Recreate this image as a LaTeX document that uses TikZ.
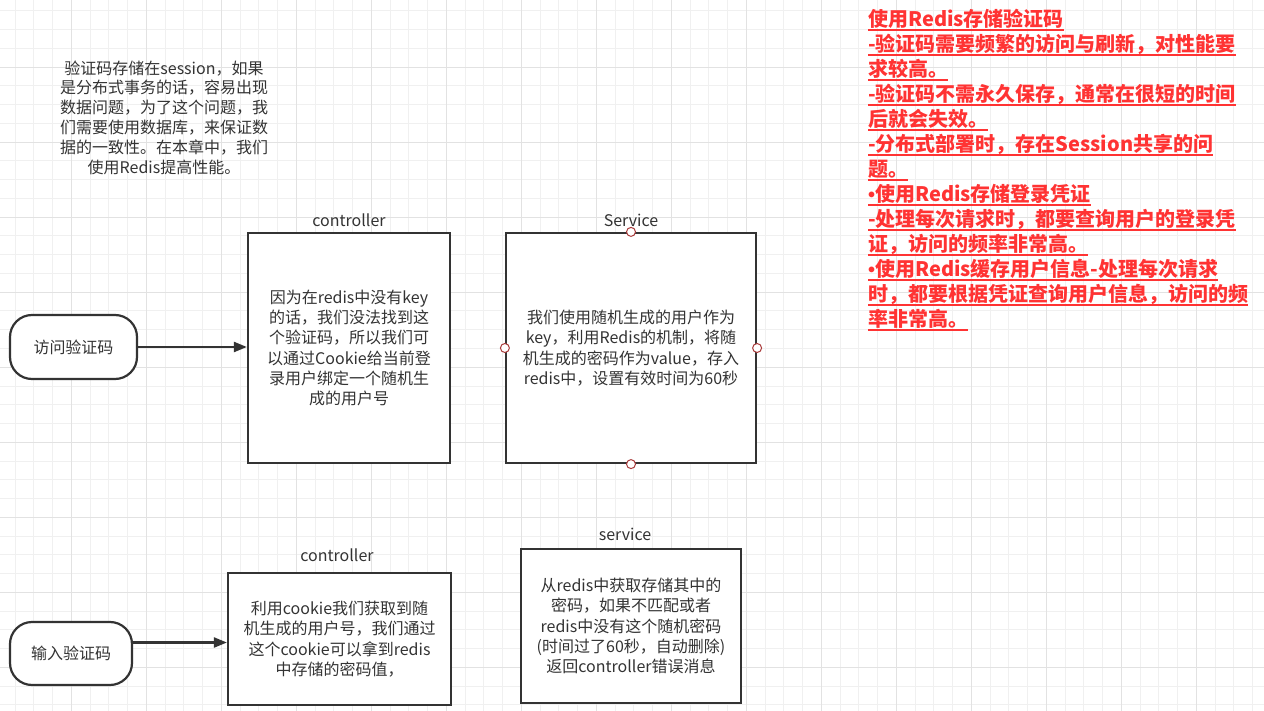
\documentclass[tikz,border=0pt]{standalone}
\usepackage{fontspec}
\setmainfont{Noto Sans CJK SC}
\newfontfamily\bulletfont{Liberation Sans}
\usetikzlibrary{arrows.meta,calc}
\definecolor{dark}{RGB}{51,51,51}
\definecolor{gminor}{RGB}{240,240,240}
\definecolor{gmajor}{RGB}{226,226,226}
\definecolor{redt}{RGB}{255,51,51}
\definecolor{cptc}{RGB}{170,60,60}
\newcommand\redul[1]{\setbox0\hbox{#1}\rlap{\rule[-4.5pt]{\wd0}{2pt}}\box0}
\newcommand\bul{{\bulletfont\bfseries •}}
\tikzset{
  box/.style={draw=dark, line width=2.2pt, fill=white, align=center, text=dark,
    font=\fontsize{16}{20.3}\selectfont, inner sep=0pt},
  stad/.style={box, rounded corners=22pt},
  lbl/.style={text=dark, font=\fontsize{16}{19}\selectfont, inner sep=0pt},
  arr/.style={draw=dark, line width=2.2pt, -{Triangle[length=13pt,width=10pt]}},
  cpt/.style={circle, draw=cptc, fill=white, line width=1pt, minimum size=9pt, inner sep=0pt},
}
\begin{document}
\begin{tikzpicture}[x=1pt,y=-1pt]
\useasboundingbox (0,0) rectangle (1264,711);
\fill[white] (0,0) rectangle (1264,711);
% grid
\foreach \i in {0,...,67} \draw[gminor, line width=1pt] ({15+18.75*\i},0) -- ({15+18.75*\i},711);
\foreach \i in {-1,...,38} \draw[gminor, line width=1pt] (0,{11+18.75*\i}) -- (1264,{11+18.75*\i});
\foreach \i in {0,...,16} \draw[gmajor, line width=1pt] ({71.25+75*\i},0) -- ({71.25+75*\i},711);
\foreach \i in {0,...,8} \draw[gmajor, line width=1pt] (0,{67.25+75*\i}) -- (1264,{67.25+75*\i});

% top-left note
\node[lbl, align=center, font=\fontsize{16}{19.8}\selectfont] (note) at (164,117.5)
  {验证码存储在session，如果\\是分布式事务的话，容易出现\\数据问题，为了这个问题，我\\们需要使用数据库，来保证数\\据的一致性。在本章中，我们\\使用Redis提高性能。};

% red notes
\node[anchor=north west, align=left, text=redt, inner sep=0pt,
  font=\bfseries\fontsize{20}{25}\selectfont] (reds) at (868,8.5)
  {\redul{使用Redis存储验证码}\\
   \redul{-验证码需要频繁的访问与刷新，对性能要}\\
   \redul{求较高。}\\
   \redul{-验证码不需永久保存，通常在很短的时间}\\
   \redul{后就会失效。}\\
   \redul{-分布式部署时，存在Session共享的问}\\
   \redul{题。}\\
   \redul{\bul 使用Redis存储登录凭证}\\
   \redul{-处理每次请求时，都要查询用户的登录凭}\\
   \redul{证，访问的频率非常高。}\\
   \redul{\bul 使用Redis缓存用户信息-处理每次请求}\\
   \redul{时，都要根据凭证查询用户信息，访问的频}\\
   \redul{率非常高。}};

% row 1
\node[stad, minimum width=127pt, minimum height=64pt] (s1) at (73.5,347) {访问验证码};
\node[box, minimum width=202pt, minimum height=230pt] (c1) at (349,348)
  {因为在redis中没有key\\的话，我们没法找到这\\个验证码，所以我们可\\以通过Cookie给当前登\\录用户绑定一个随机生\\成的用户号};
\node[box, minimum width=250pt, minimum height=230pt] (v1) at (631,348)
  {我们使用随机生成的用户作为\\key，利用Redis的机制，将随\\机生成的密码作为value，存入\\redis中，设置有效时间为60秒};
\node[lbl] (c1l) at (349,220) {controller};
\node[lbl] (v1l) at (631,220) {Service};
\draw[arr] (s1.east) -- (s1.east -| c1.west);
\node[cpt] (pn) at (v1.north) {};
\node[cpt] (ps) at (v1.south) {};
\node[cpt] (pw) at (v1.west) {};
\node[cpt] (pe) at (v1.east) {};

% row 2
\node[stad, minimum width=122pt, minimum height=63pt] (s2) at (71,653.5) {输入验证码};
\node[box, minimum width=223pt, minimum height=132pt] (c2) at (339.5,639)
  {利用cookie我们获取到随\\机生成的用户号，我们通过\\这个cookie可以拿到redis\\中存储的密码值，};
\node[box, minimum width=220pt, minimum height=154pt] (v2) at (631,626)
  {从redis中获取存储其中的\\密码，如果不匹配或者\\redis中没有这个随机密码\\(时间过了60秒，自动删除)\\返回controller错误消息};
\node[lbl] (c2l) at (337,555) {controller};
\node[lbl] (v2l) at (625,534) {service};
\coordinate (a2) at ($(s2.east)+(0,-11)$);
\draw[arr] (a2) -- (a2 -| c2.west);
\end{tikzpicture}
\end{document}
